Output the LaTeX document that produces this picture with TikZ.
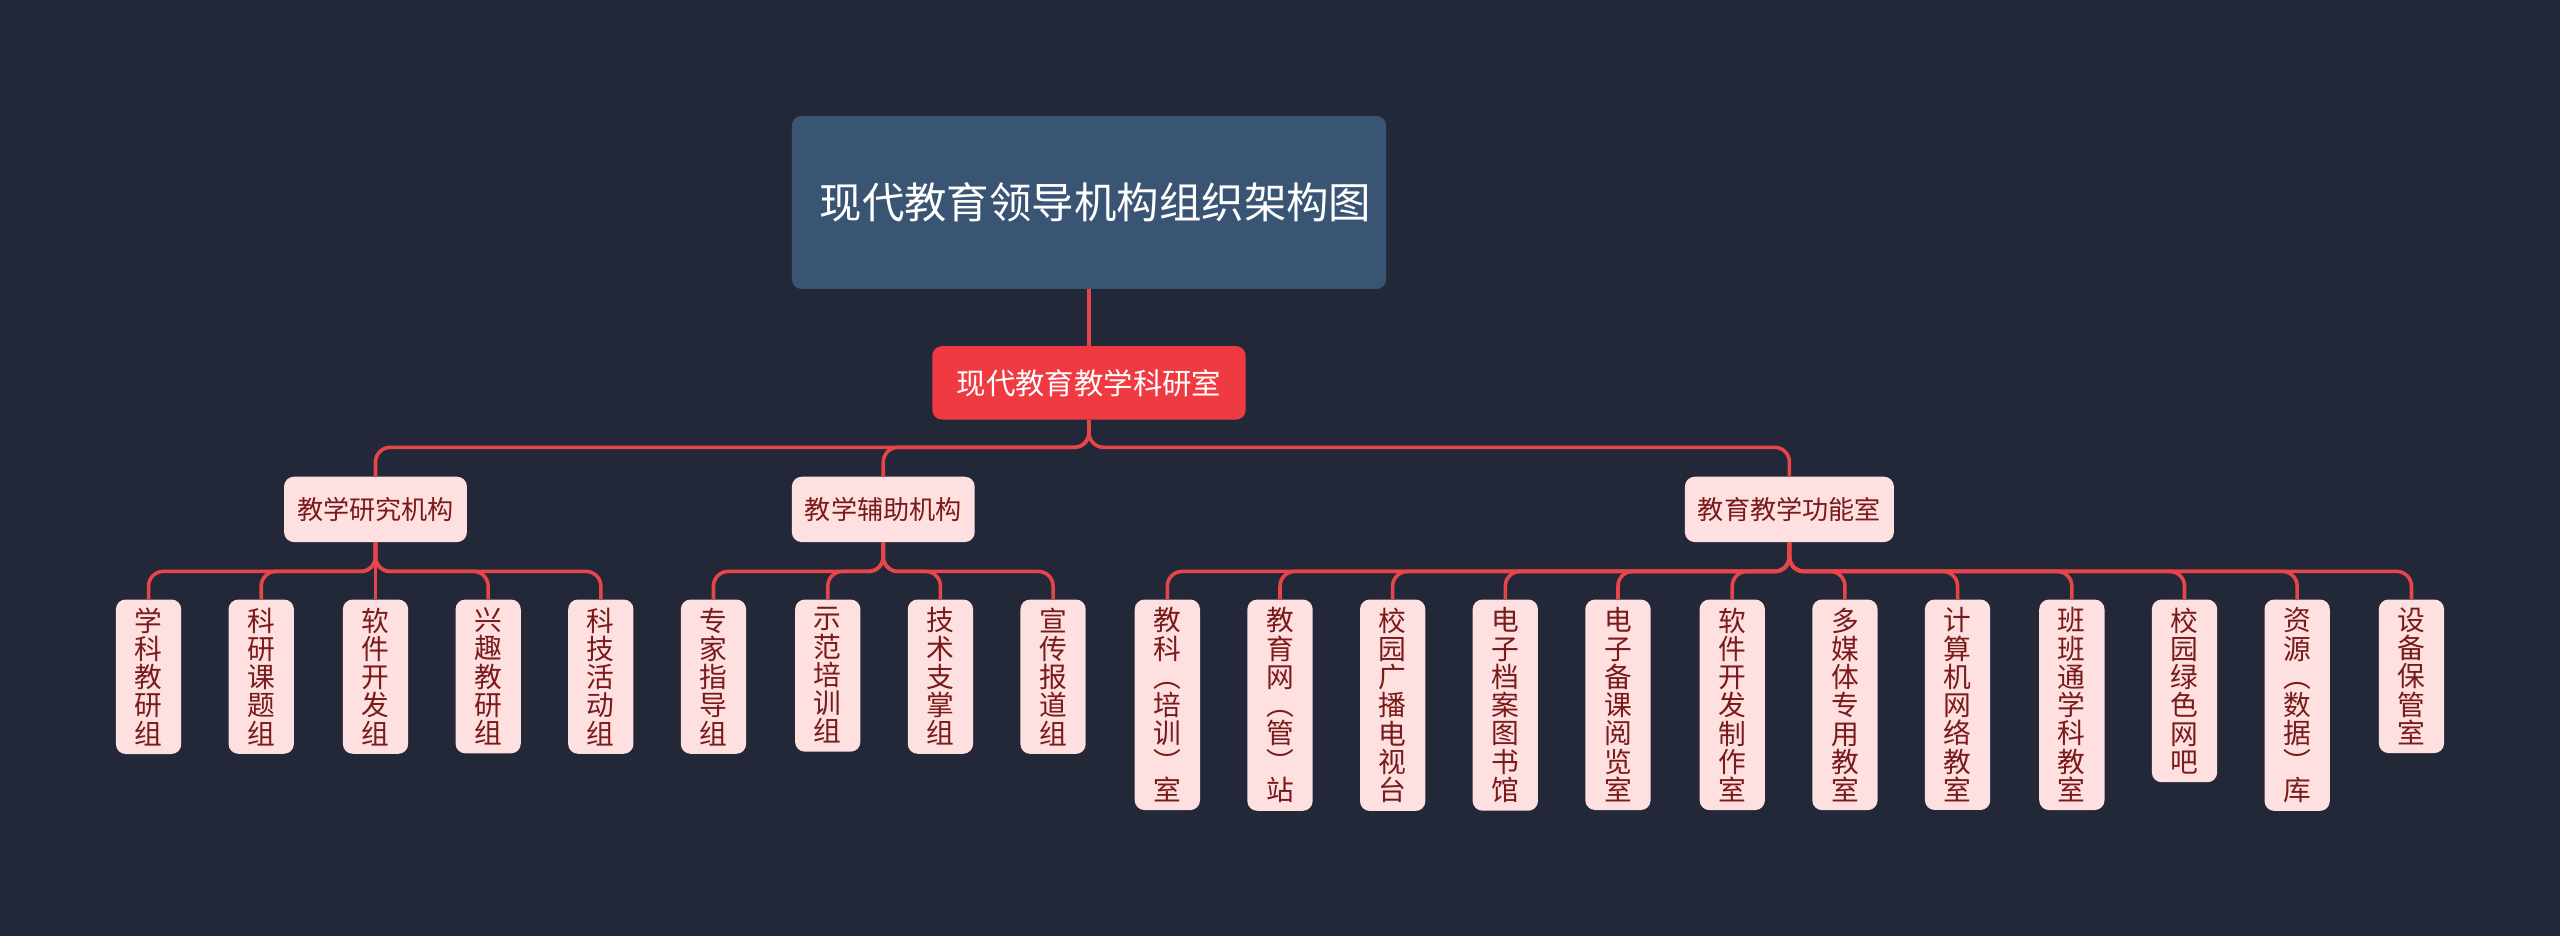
\documentclass[tikz,border=0pt]{standalone}
\usepackage{fontspec}
\setmainfont{Noto Sans CJK SC}
\usetikzlibrary{positioning}
\definecolor{bgdark}{HTML}{232838}
\definecolor{rootblue}{HTML}{3A5573}
\definecolor{mainred}{HTML}{F03A42}
\definecolor{linkred}{HTML}{E8454A}
\definecolor{boxpink}{HTML}{FDE0DF}
\definecolor{textred}{HTML}{7A1A1A}

\begin{document}
\begin{tikzpicture}[
    x=1pt, y=-1pt,
  ]
  \tikzset{
    rootbox/.style = {fill=rootblue, rounded corners=6pt, text=white, font=\fontsize{26}{36}\selectfont,
                      minimum width=364pt, minimum height=106pt, align=center, text width=330pt},
    mainbox/.style = {fill=mainred, rounded corners=6pt, text=white, font=\fontsize{18}{22}\selectfont,
                      minimum width=192pt, minimum height=45pt},
    groupbox/.style = {fill=boxpink, rounded corners=6pt, text=textred, font=\fontsize{16}{20}\selectfont,
                       minimum height=40pt, inner xsep=8pt},
    leafbox/.style = {fill=boxpink, rounded corners=6pt, text=textred, font=\fontsize{17}{17.3}\selectfont,
                      minimum width=40pt, text width=18pt, align=center, inner xsep=0pt, inner ysep=5pt, anchor=north},
    link/.style = {linkred, line width=2.2pt, rounded corners=9pt},
  }

  % Background
  \fill[bgdark] (0,0) rectangle (1568,573);
  \useasboundingbox (0,0) rectangle (1568,573);

  % Root and main office
  \node[rootbox] (root) at (667,124) {现代教育领导机构组织架构图};
  \node[mainbox] (lab) at (667,234.5) {现代教育教学科研室};
  \draw[link] (root.south) -- (lab.north);

  % Groups
  \node[groupbox] (research) at (230,312) {教学研究机构};
  \node[groupbox] (support) at (541,312) {教学辅助机构};
  \node[groupbox] (rooms) at (1096,312) {教育教学功能室};
  \foreach \g in {research, support, rooms}
    \draw[link] (lab.south) |- (\g.north |- 0,274) -- (\g.north);

  % Leaves of research
  \foreach \x/\t [count=\i] in {91/{学\\科\\教\\研\\组}, 160/{科\\研\\课\\题\\组}, 230/{软\\件\\开\\发\\组},
      299/{兴\\趣\\教\\研\\组}, 368/{科\\技\\活\\动\\组}} {
    \node[leafbox] (r\i) at (\x,367) {\t};
    \draw[link] (research.south) |- (r\i.north |- 0,350) -- (r\i.north);
  }

  % Leaves of support
  \foreach \x/\t [count=\i] in {437/{专\\家\\指\\导\\组}, 507/{示\\范\\培\\训\\组}, 576/{技\\术\\支\\掌\\组},
      645/{宣\\传\\报\\道\\组}} {
    \node[leafbox] (s\i) at (\x,367) {\t};
    \draw[link] (support.south) |- (s\i.north |- 0,350) -- (s\i.north);
  }

  % Leaves of rooms
  \foreach \x/\t [count=\i] in {715/{教\\科\\︵\\培\\训\\︶\\室}, 784/{教\\育\\网\\︵\\管\\︶\\站},
      853/{校\\园\\广\\播\\电\\视\\台}, 922/{电\\子\\档\\案\\图\\书\\馆}, 991/{电\\子\\备\\课\\阅\\览\\室},
      1061/{软\\件\\开\\发\\制\\作\\室}, 1130/{多\\媒\\体\\专\\用\\教\\室}, 1199/{计\\算\\机\\网\\络\\教\\室},
      1269/{班\\班\\通\\学\\科\\教\\室}, 1338/{校\\园\\绿\\色\\网\\吧}, 1407/{资\\源\\︵\\数\\据\\︶\\库},
      1477/{设\\备\\保\\管\\室}} {
    \node[leafbox] (f\i) at (\x,367) {\t};
    \draw[link] (rooms.south) |- (f\i.north |- 0,350) -- (f\i.north);
  }
\end{tikzpicture}
\end{document}
